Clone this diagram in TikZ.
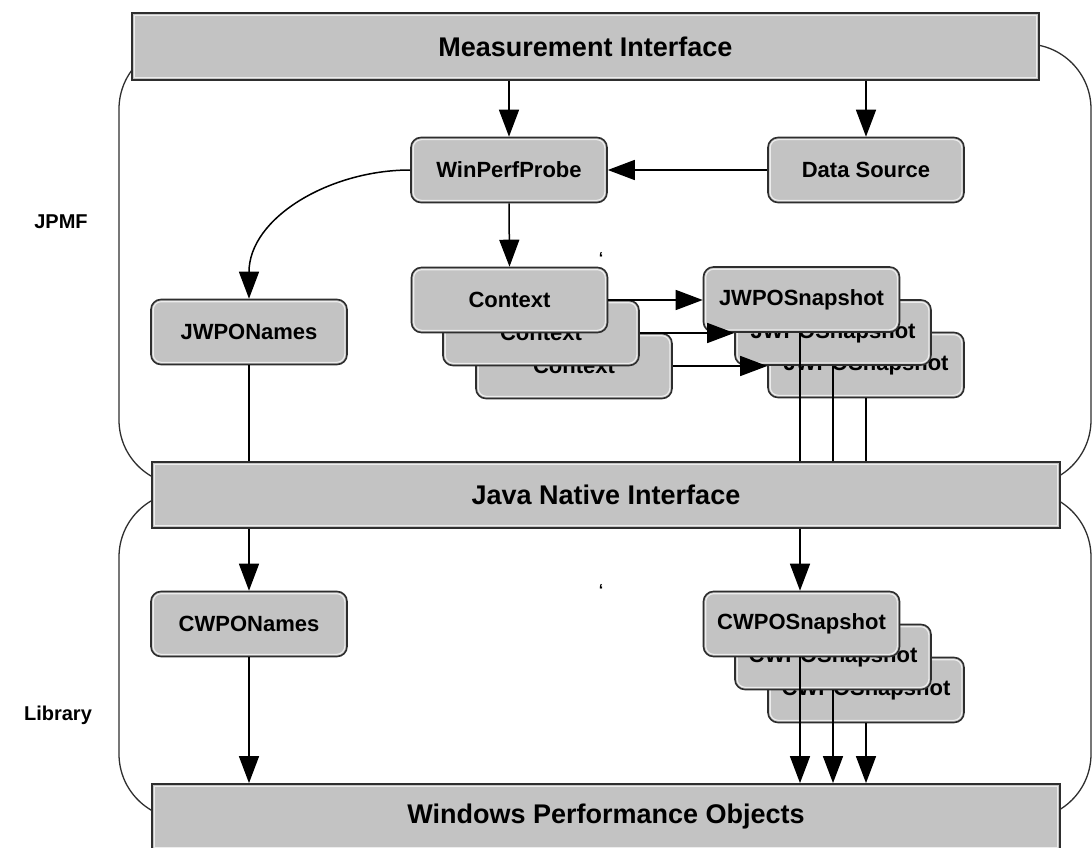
\documentclass[tikz,border=0pt]{standalone}
\usepackage{fontspec}
\setmainfont{Liberation Sans}
\usetikzlibrary{arrows.meta}
\definecolor{boxgray}{HTML}{C3C3C3}
\definecolor{edge}{HTML}{2E2E2E}
\definecolor{hilite}{HTML}{EDEDED}
\begin{document}
\begin{tikzpicture}[x=1pt,y=-1pt,
  bar/.style={rectangle, fill=boxgray, draw=edge, line width=1.8pt, inner sep=0pt,
    font=\bfseries\fontsize{27}{31}\selectfont,
    path picture={\draw[hilite,line width=1.2pt]
      ([shift={(2.3pt,-2.3pt)}]path picture bounding box.north west) rectangle
      ([shift={(-2.3pt,2.3pt)}]path picture bounding box.south east);}},
  stackbox/.style={rectangle, rounded corners=10pt, fill=boxgray, draw=edge, line width=1.6pt,
    minimum width=196pt, minimum height=65pt, inner sep=0pt,
    font=\bfseries\fontsize{22}{26}\selectfont,
    path picture={\draw[hilite,line width=1.1pt,rounded corners=8pt]
      ([shift={(2.2pt,-2.2pt)}]path picture bounding box.north west) rectangle
      ([shift={(-2.2pt,2.2pt)}]path picture bounding box.south east);}},
  region/.style={draw=edge, line width=1.3pt, rounded corners=65pt},
  sidelabel/.style={font=\bfseries\fontsize{20}{24}\selectfont},
  ln/.style={draw=black, line width=1.5pt},
  arr/.style={ln, -{Triangle[length=27pt,width=20pt]}},
  tick/.style={font=\bfseries\fontsize{16}{16}\selectfont, inner sep=0pt}
]
\useasboundingbox (0,0) rectangle (1092,848);

% background regions
\draw[region] (119,44) rectangle (1091,485);
\draw[region] (119,492) rectangle (1091,819);

% bars
\node[bar, minimum width=907pt, minimum height=67pt] (mi) at (585.5,46.5) {Measurement Interface};
\node[bar, minimum width=908pt, minimum height=66pt] (jni) at (606,495) {Java Native Interface};
\node[bar, minimum width=908pt, minimum height=66pt] (wpo) at (606,817) {Windows Performance Objects};

% side labels
\node[sidelabel] (jpmf) at (61,222) {JPMF};
\node[sidelabel] (lib) at (58,715) {Library};

% upper boxes
\node[stackbox] (wpp) at (509,170) {WinPerfProbe};
\node[stackbox] (ds) at (866,170) {Data Source};
\node[stackbox] (jn) at (249,332) {JWPONames};
\node[stackbox] (ctx3) at (574,366) {Context};
\node[stackbox] (ctx2) at (541,333) {Context};
\node[stackbox] (ctx1) at (509.5,300) {Context};
\node[stackbox] (j3) at (866,365) {JWPOSnapshot};
\node[stackbox] (j2) at (833,332.5) {JWPOSnapshot};
\node[stackbox] (j1) at (801.5,299.5) {JWPOSnapshot};

% lower connectors hidden behind front snapshot
\draw[ln] (jni.south -| j2.south) -- (jni.south -| j2.south |- 625,625);
\draw[ln] (jni.south -| j3.south) -- (jni.south -| j3.south |- 658,658);

% lower boxes
\node[stackbox] (cn) at (249,624) {CWPONames};
\node[stackbox] (c3) at (866,690) {CWPOSnapshot};
\node[stackbox] (c2) at (833,657) {CWPOSnapshot};
\node[stackbox] (c1) at (801.5,624) {CWPOSnapshot};

% tiny marks
\node[tick] (tk1) at (601,258) {`};
\node[tick] (tk2) at (601,590) {`};

% connectors
\draw[arr] (mi.south -| wpp.north) -- (wpp.north);
\draw[arr] (mi.south -| ds.north) -- (ds.north);
\draw[arr] (ds.west) -- (wpp.east);
\draw[arr] (wpp.south) -- (ctx1.north);
\draw[arr] (wpp.west) to[out=180,in=90] (jn.north);
\draw[ln] (jn.south) -- (jn.south |- jni.north);
\draw[arr] (ctx1.east) -- (ctx1.east -| j1.west);
\draw[arr] (ctx2.east) -- (ctx2.east -| j2.west);
\draw[arr] (ctx3.east) -- (ctx3.east -| j3.west);
\draw[ln] ([xshift=-1.5pt]j1.south) -- ([xshift=-1.5pt]j1.south |- jni.north);
\draw[ln] (j2.south) -- (j2.south |- jni.north);
\draw[ln] (j3.south) -- (j3.south |- jni.north);
\draw[arr] (jni.south -| cn.north) -- (cn.north);
\draw[arr] ([xshift=-1.5pt]jni.south -| c1.north) -- ([xshift=-1.5pt]c1.north);
\draw[arr] (cn.south) -- (cn.south |- wpo.north);
\draw[arr] ([xshift=-1.5pt]c1.south) -- ([xshift=-1.5pt]c1.south |- wpo.north);
\draw[arr] (c2.south) -- (c2.south |- wpo.north);
\draw[arr] (c3.south) -- (c3.south |- wpo.north);
\end{tikzpicture}
\end{document}
